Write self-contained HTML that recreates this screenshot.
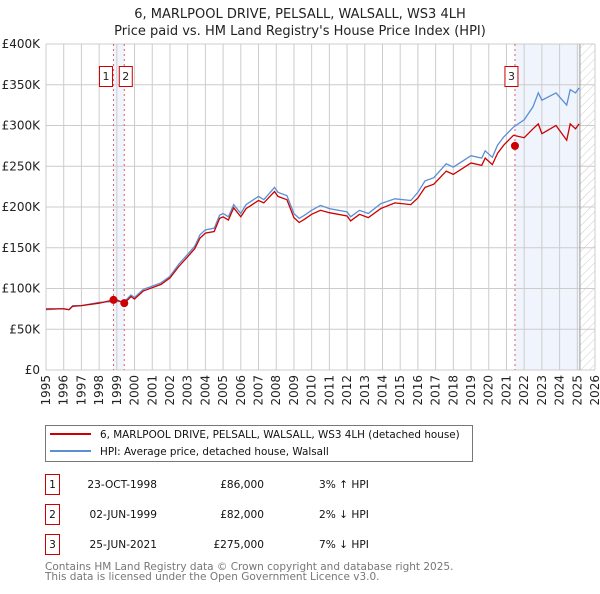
<!DOCTYPE html>
<html><head><meta charset="utf-8"><style>
body{margin:0;width:600px;height:590px;background:#fff;font-family:"DejaVu Sans","Liberation Sans",sans-serif;}
svg text{font-family:"DejaVu Sans","Liberation Sans",sans-serif;}
</style></head><body>
<svg id="chart" width="600" height="590" viewBox="0 0 600 590" xmlns="http://www.w3.org/2000/svg">
<defs><pattern id="hatch" width="6" height="6" patternUnits="userSpaceOnUse" patternTransform="rotate(45)"><line x1="0" y1="0" x2="0" y2="6" stroke="#ccc" stroke-width="1"/></pattern></defs>
<text x="300" y="18" text-anchor="middle" font-size="13" fill="#222">6, MARLPOOL DRIVE, PELSALL, WALSALL, WS3 4LH</text>
<text x="300" y="35" text-anchor="middle" font-size="13" fill="#222">Price paid vs. HM Land Registry's House Price Index (HPI)</text>
<g id="plot"></g>
<g>
<rect x="45.5" y="425.5" width="427" height="36" fill="#fff" stroke="#777"/>
<line x1="50" y1="434" x2="91" y2="434" stroke="#cc0000" stroke-width="2"/>
<text x="100" y="438" font-size="10.4" fill="#111">6, MARLPOOL DRIVE, PELSALL, WALSALL, WS3 4LH (detached house)</text>
<line x1="50" y1="451" x2="91" y2="451" stroke="#5b8fd4" stroke-width="2"/>
<text x="100" y="455" font-size="10.4" fill="#111">HPI: Average price, detached house, Walsall</text>
</g>
<g id="table" font-size="10.6" fill="#111"></g>
<text x="45" y="570" font-size="10.5" fill="#777">Contains HM Land Registry data © Crown copyright and database right 2025.</text>
<text x="45" y="580" font-size="10.5" fill="#777">This data is licensed under the Open Government Licence v3.0.</text>
</svg>
<script>
const years=[1995,1996,1996.3,1996.5,1997,1998,1998.81,1999,1999.42,1999.8,2000,2000.5,2001,2001.5,2002,2002.5,2003,2003.4,2003.7,2004,2004.5,2004.8,2005,2005.3,2005.6,2006,2006.3,2007,2007.3,2007.9,2008.1,2008.6,2009,2009.3,2009.6,2010,2010.5,2011,2012,2012.2,2012.7,2013.2,2013.9,2014.7,2015.6,2016,2016.4,2016.9,2017.6,2018,2019,2019.6,2019.8,2020.2,2020.5,2020.85,2021.4,2022,2022.5,2022.8,2023,2023.8,2024.4,2024.6,2024.9,2025.1];
const hpiValues=[74,75.5,74,79,79,83,84,84,84,92,89,99,103,107,115,130,142,152,166,172,174,190,192,188,203,192,203,213,209,224,218,214,192,186,190,196,202,198,194,188,196,192,204,210,208,218,232,236,253,249,263,260,269,261,276,286,298,307,323,340,331,340,325,344,340,346];
const priceValues=[75,75,74,78,79,82,86,86,82,90,87,97,101,105,113,127,139,149,162,168,170,186,188,184,199,188,198,208,205,219,213,209,187,181,185,191,196,193,189,183,191,187,198,205,203,211,224,228,244,240,254,251,260,252,266,276,288,285,296,302,290,300,282,302,296,302];
const saleLabels=["1","2","3"];
const saleYears=[1998.81,1999.42,2021.48];
const salePrices=[86,82,275];
const saleDates=["23-OCT-1998","02-JUN-1999","25-JUN-2021"];
const salePriceText=["£86,000","£82,000","£275,000"];
const saleHpiText=["3% ↑ HPI","2% ↓ HPI","7% ↓ HPI"];
const yTicks=[0,50,100,150,200,250,300,350,400];
const yTickLabels=["£0","£50K","£100K","£150K","£200K","£250K","£300K","£350K","£400K"];
const xStart=1995,xEnd=2026,dataEnd=2025.15;

const L=46,R=595,T=44,B=370;
const x=v=>L+(v-xStart)/(xEnd-xStart)*(R-L);
const y=v=>B-v/400*(B-T);
const NS="http://www.w3.org/2000/svg";
const plot=document.getElementById('plot');
function mk(tag,attrs,parent){const e=document.createElementNS(NS,tag);for(const k in attrs)e.setAttribute(k,attrs[k]);(parent||plot).appendChild(e);return e;}

let e;
e=mk('rect',{x:x(saleYears[0]),y:T,width:x(saleYears[1])-x(saleYears[0]),height:B-T,fill:'#f0f4fc'});


e=mk('rect',{x:x(saleYears[2]),y:T,width:x(dataEnd)-x(saleYears[2]),height:B-T,fill:'#f0f4fc'});


e=mk('rect',{x:x(dataEnd),y:T,width:R-x(dataEnd),height:B-T,fill:'url(#hatch)'});



for(let yr=xStart;yr<=xEnd;yr++){
  e=mk('line',{x1:x(yr),x2:x(yr),y1:T,y2:B,stroke:'#cccccc','stroke-width':1});
  
  
  e=mk('text',{transform:`translate(${x(yr)+4},${B+5}) rotate(-90)`,'text-anchor':'end','font-size':12,fill:'#222'});
  e.textContent=yr;
  
  
}
yTicks.forEach((t,i)=>{
  e=mk('line',{x1:L,x2:R,y1:y(t),y2:y(t),stroke:'#cccccc','stroke-width':1});
  
  
  e=mk('text',{x:L-6,y:y(t)+4,'text-anchor':'end','font-size':12,fill:'#222'});
  e.textContent=yTickLabels[i];
  
  
});
e=mk('line',{x1:x(dataEnd),x2:x(dataEnd),y1:T,y2:B,stroke:'#999','stroke-width':1});



saleYears.forEach((s,i)=>{
  e=mk('line',{x1:x(s),x2:x(s),y1:T,y2:B,stroke:'#e06060','stroke-width':1,'stroke-dasharray':'2,3'});
  
  
});

const path=(vals)=>years.map((yr,i)=>(i?'L':'M')+x(yr).toFixed(1)+','+y(vals[i]).toFixed(1)).join('');
e=mk('path',{d:path(hpiValues),fill:'none',stroke:'#5b8fd4','stroke-width':1.3});


e=mk('path',{d:path(priceValues),fill:'none',stroke:'#cc0000','stroke-width':1.3});



saleYears.forEach((s,i)=>{
  e=mk('circle',{cx:x(s),cy:y(salePrices[i]),r:4,fill:'#cc0000'});
  
  
  const bx=i===0?x(s)-14:(i===1?x(s)-5:x(s)-10);
  e=mk('rect',{x:bx,y:66.5,width:13,height:20,fill:'#fff',stroke:'#cc0000'});
  
  
  e=mk('text',{x:bx+6.5,y:80,'text-anchor':'middle','font-size':11,fill:'#222'});
  e.textContent=saleLabels[i];
  
  
});

const tbl=document.getElementById('table');
saleLabels.forEach((lb,i)=>{
  const cy=483+i*30;
  e=mk('rect',{x:45.5,y:cy-8.5,width:14,height:20,fill:'#fff',stroke:'#cc0000'},tbl);
  
  
  e=mk('text',{x:52.5,y:cy+5,'text-anchor':'middle'},tbl);e.textContent=lb;
  
  
  e=mk('text',{x:157,y:cy+5,'text-anchor':'end'},tbl);e.textContent=saleDates[i];
  
  
  e=mk('text',{x:264,y:cy+5,'text-anchor':'end'},tbl);e.textContent=salePriceText[i];
  
  
  e=mk('text',{x:319,y:cy+5},tbl);e.textContent=saleHpiText[i];
  
  
});
</script>
</body></html>
